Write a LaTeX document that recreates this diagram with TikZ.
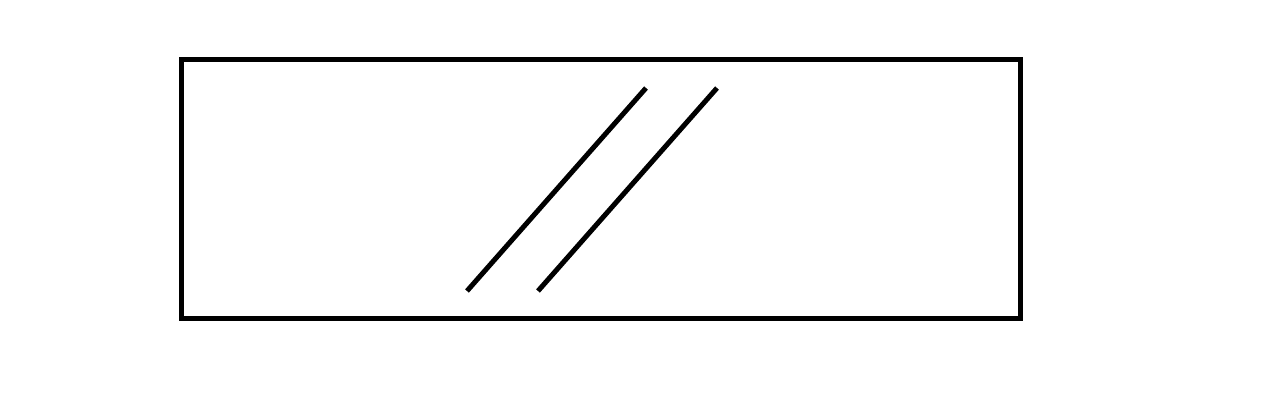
\documentclass[tikz,border=0pt]{standalone}
\begin{document}
\begin{tikzpicture}[x=1pt,y=-1pt,line width=5pt]
\useasboundingbox (0,0) rectangle (1280,411);
\coordinate (a1) at (467,291);
\coordinate (a2) at (646,88);
\coordinate (b1) at (538,291);
\coordinate (b2) at (717,88);
\draw (181,60) rectangle (1020,319);
\draw (a1) -- (a2);
\draw (b1) -- (b2);
\end{tikzpicture}
\end{document}
